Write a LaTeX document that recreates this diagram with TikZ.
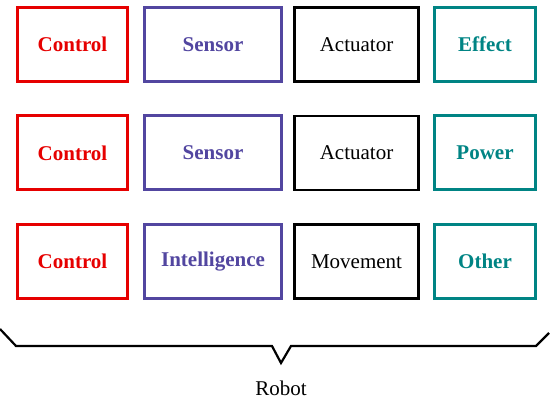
\documentclass[tikz,border=0pt]{standalone}
\usepackage{fontspec}
\setmainfont{Liberation Serif}
\usepackage{tikz}
\definecolor{R}{RGB}{230, 0, 0}
\definecolor{B}{RGB}{82, 70, 160}
\definecolor{G}{RGB}{0, 132, 132}
\tikzset{
  caja/.style={draw, rectangle, minimum height=74pt, inner sep=0pt,
    font=\fontsize{21}{25}\selectfont},
  rojo/.style={caja, R, line width=3pt, text=R, font=\fontsize{21}{25}\selectfont\bfseries, minimum width=110pt},
  azul/.style={caja, B, line width=3pt, text=B, font=\fontsize{21}{25}\selectfont\bfseries, minimum width=137pt},
  negro/.style={caja, black, line width=2.5pt, minimum width=124pt},
  verde/.style={caja, G, line width=3pt, text=G, font=\fontsize{21}{25}\selectfont\bfseries, minimum width=101pt}
}
\begin{document}
\begin{tikzpicture}[x=1pt, y=-1pt]
  \useasboundingbox (0,0) rectangle (552,409);
	%# FILA 1
  \node[rojo]  (control1) at (72.5,44.5) {Control};
  \node[azul]  (sensor1)  at (213,44.5)  {Sensor};
  \node[negro] (actuator1) at (356.5,44.5) {Actuator};
  \node[verde] (effect)   at (485,44.5)  {Effect};

	%# FILA 2
  \node[rojo]  (control2) at (72.5,153) {Control};
  \node[azul]  (sensor2)  at (213,153)  {Sensor};
  \node[negro] (actuator2) at (356.5,153) {Actuator};
  \node[verde] (power)    at (485,153)  {Power};

	%# FILA 3
  \node[rojo]  (control3) at (72.5,261.5) {Control};
  \node[azul]  (intel)    at (213,261.5)  {Intelligence};
  \node[negro] (movement) at (356.5,261.5) {Movement};
  \node[verde] (other)    at (485,261.5)  {Other};

  %# LLAVE ROBOT
  \draw[black, line width=2.2pt] (0,329) -- (16,346) -- (272,346) -- (281,363)
    -- (291,346) -- (536,346) -- (549,333);
  \node[font=\fontsize{21}{25}\selectfont] (robot) at (281,388) {Robot};
\end{tikzpicture}
\end{document}
